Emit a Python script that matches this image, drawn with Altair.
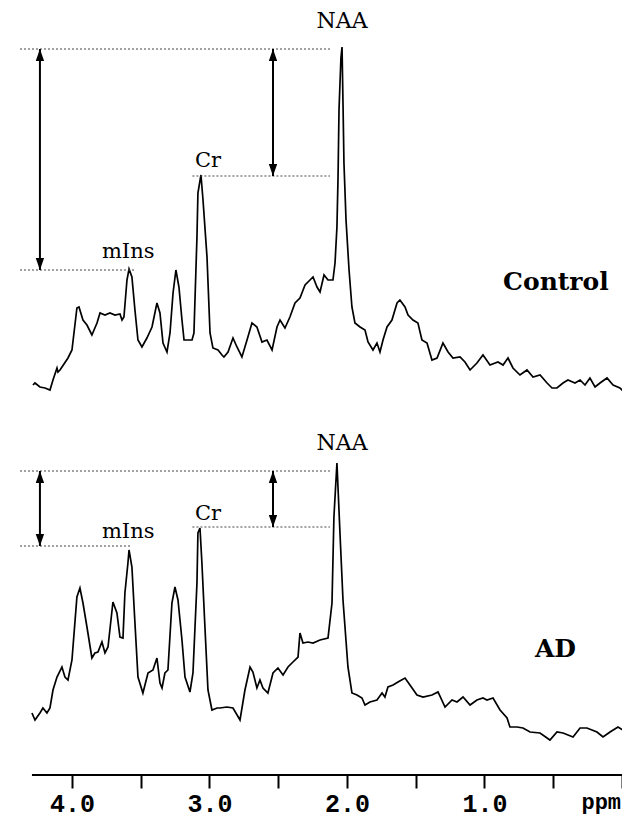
import altair as alt
import pandas as pd

# ---------------- data ----------------
# Control spectrum: chemical shift (ppm) and signal intensity (a.u., includes stacking offset)
control_ppm = [4.284, 4.269, 4.233, 4.196, 4.160, 4.138, 4.109, 4.102, 4.087, 4.029, 4.000,
               3.964, 3.949, 3.920, 3.891, 3.855, 3.818, 3.796, 3.760, 3.724, 3.687, 3.651,
               3.636, 3.622, 3.600, 3.585, 3.564, 3.542, 3.520, 3.491, 3.455, 3.418, 3.382,
               3.360, 3.338, 3.309, 3.287, 3.265, 3.244, 3.222, 3.200, 3.185, 3.127, 3.113,
               3.091, 3.084, 3.062, 3.047, 3.018, 2.996, 2.975, 2.938, 2.909, 2.895, 2.865,
               2.829, 2.800, 2.764, 2.727, 2.691, 2.655, 2.618, 2.582, 2.545, 2.509, 2.487,
               2.451, 2.415, 2.378, 2.342, 2.305, 2.269, 2.247, 2.218, 2.196, 2.167, 2.138,
               2.102, 2.087, 2.073, 2.065, 2.058, 2.044, 2.036, 2.029, 2.022, 2.007, 1.985,
               1.964, 1.942, 1.905, 1.869, 1.847, 1.811, 1.782, 1.760, 1.738, 1.709, 1.673,
               1.636, 1.615, 1.578, 1.556, 1.520, 1.484, 1.455, 1.418, 1.382, 1.345, 1.302,
               1.265, 1.229, 1.178, 1.142, 1.105, 1.055, 1.011, 0.960, 0.902, 0.865, 0.829,
               0.793, 0.742, 0.691, 0.647, 0.596, 0.545, 0.509, 0.473, 0.429, 0.393, 0.342,
               0.305, 0.269, 0.233, 0.196, 0.160, 0.109, 0.065, 0.015, -0.036]
control_int = [390, 392, 388, 387, 385, 395, 407, 403, 405, 417, 425,
               467, 468, 455, 450, 440, 452, 462, 460, 462, 460, 461,
               455, 458, 495, 506, 498, 465, 435, 428, 437, 448, 472,
               462, 432, 423, 442, 482, 505, 488, 455, 435, 435, 442,
               538, 582, 600, 575, 518, 442, 427, 425, 420, 418, 423,
               437, 428, 418, 435, 452, 448, 433, 435, 425, 448, 455,
               447, 458, 472, 477, 490, 495, 498, 488, 483, 500, 495,
               495, 512, 548, 598, 665, 717, 728, 672, 612, 555, 505,
               468, 452, 448, 445, 433, 425, 432, 423, 435, 448, 455,
               472, 475, 468, 460, 455, 452, 435, 432, 415, 417, 432,
               423, 417, 418, 413, 405, 412, 420, 410, 413, 410, 417,
               407, 400, 405, 398, 400, 392, 387, 387, 392, 395, 392,
               395, 390, 397, 388, 392, 397, 390, 387, 380]

# AD spectrum
ad_ppm = [4.291, 4.269, 4.233, 4.211, 4.182, 4.160, 4.138, 4.109, 4.073, 4.051, 4.029,
          4.000, 3.964, 3.942, 3.920, 3.891, 3.855, 3.833, 3.811, 3.782, 3.760, 3.738,
          3.702, 3.673, 3.651, 3.629, 3.615, 3.593, 3.585, 3.564, 3.542, 3.520, 3.484,
          3.447, 3.411, 3.382, 3.360, 3.345, 3.324, 3.302, 3.273, 3.251, 3.229, 3.200,
          3.178, 3.142, 3.120, 3.091, 3.084, 3.069, 3.055, 3.033, 3.011, 2.982, 2.945,
          2.924, 2.873, 2.829, 2.778, 2.742, 2.705, 2.684, 2.655, 2.633, 2.611, 2.575,
          2.538, 2.502, 2.465, 2.429, 2.393, 2.356, 2.342, 2.320, 2.284, 2.247, 2.196,
          2.138, 2.109, 2.095, 2.073, 2.051, 2.029, 1.993, 1.964, 1.927, 1.891, 1.869,
          1.833, 1.782, 1.745, 1.724, 1.702, 1.665, 1.629, 1.578, 1.542, 1.491, 1.447,
          1.382, 1.338, 1.287, 1.236, 1.200, 1.156, 1.105, 1.055, 1.011, 0.982, 0.938,
          0.887, 0.836, 0.815, 0.764, 0.720, 0.669, 0.596, 0.524, 0.473, 0.429, 0.356,
          0.305, 0.255, 0.182, 0.138, 0.087, 0.029, -0.007, -0.044]
ad_int = [62, 55, 62, 67, 62, 67, 85, 98, 108, 98, 95,
          115, 178, 187, 172, 148, 117, 122, 123, 133, 122, 128,
          173, 162, 138, 137, 182, 212, 225, 208, 152, 98, 82,
          102, 105, 117, 92, 87, 102, 105, 172, 188, 175, 135,
          98, 83, 102, 192, 242, 247, 212, 148, 85, 65, 67,
          67, 68, 67, 55, 85, 108, 103, 87, 95, 87, 82,
          102, 107, 100, 108, 113, 118, 142, 132, 133, 132, 135,
          137, 172, 258, 312, 242, 175, 108, 82, 80, 77, 70,
          73, 75, 82, 78, 88, 90, 93, 97, 90, 80, 78,
          80, 83, 68, 75, 73, 78, 70, 75, 77, 75, 77,
          65, 57, 48, 48, 47, 43, 42, 35, 43, 42, 38,
          47, 47, 43, 38, 43, 48, 45, 47]

tick_values = [4.0, 3.5, 3.0, 2.5, 2.0, 1.5, 1.0, 0.5, 0.0]

# peak-height reference levels (NAA, Cr, mIns) for each spectrum
levels_series = ["Control", "Control", "Control", "AD", "AD", "AD"]
levels_name = ["NAA", "Cr", "mIns", "NAA", "Cr", "mIns"]
levels_value = [726, 599, 505, 304, 248, 229]

# ---------------- tables ----------------
spec = pd.DataFrame({
    "ppm": control_ppm + ad_ppm,
    "intensity": control_int + ad_int,
    "series": ["Control"] * len(control_ppm) + ["AD"] * len(ad_ppm),
    "idx": list(range(len(control_ppm))) + list(range(len(ad_ppm))),
})

lev = dict(zip(zip(levels_series, levels_name), levels_value))

dotted = pd.DataFrame([
    {"x1": 4.378, "x2": 2.124, "y": lev[("Control", "NAA")]},
    {"x1": 3.124, "x2": 2.124, "y": lev[("Control", "Cr")]},
    {"x1": 4.378, "x2": 3.542, "y": lev[("Control", "mIns")]},
    {"x1": 4.378, "x2": 2.124, "y": lev[("AD", "NAA")]},
    {"x1": 3.124, "x2": 2.124, "y": lev[("AD", "Cr")]},
    {"x1": 4.378, "x2": 3.578, "y": lev[("AD", "mIns")]},
])

arrows = pd.DataFrame([
    {"x": 4.233, "top": lev[("Control", "NAA")], "bot": lev[("Control", "mIns")]},
    {"x": 2.538, "top": lev[("Control", "NAA")], "bot": lev[("Control", "Cr")]},
    {"x": 4.233, "top": lev[("AD", "NAA")], "bot": lev[("AD", "mIns")]},
    {"x": 2.538, "top": lev[("AD", "NAA")], "bot": lev[("AD", "Cr")]},
])

peak_labels = pd.DataFrame([
    {"x": 2.036, "y": 747, "t": "NAA", "a": "center"},
    {"x": 3.105, "y": 608, "t": "Cr", "a": "left"},
    {"x": 3.782, "y": 517, "t": "mIns", "a": "left"},
    {"x": 2.036, "y": 325, "t": "NAA", "a": "center"},
    {"x": 3.105, "y": 255, "t": "Cr", "a": "left"},
    {"x": 3.782, "y": 237, "t": "mIns", "a": "left"},
])

group_labels = pd.DataFrame([
    {"x": 0.865, "y": 485, "t": "Control"},
    {"x": 0.633, "y": 118, "t": "AD"},
])

# plot area spans page x 16..622 at 137.5 px per ppm
X_DOMAIN = [4.407, 0.0]
xs = alt.Scale(domain=X_DOMAIN, nice=False, zero=False)
ys = alt.Scale(domain=[0, 767], nice=False, zero=False)

x_axis = alt.Axis(values=tick_values, domain=False, grid=False, ticks=True,
                  tickSize=13, tickWidth=2, tickColor="black",
                  labelExpr="datum.value > 0 && datum.value % 1 == 0 ? format(datum.value, '.1f') : ''",
                  labelFont="Liberation Mono", labelFontWeight="bold", labelFontSize=25,
                  labelColor="black", labelBaseline="alphabetic", labelPadding=23,
                  labelFlush=False, labelOverlap=False, title=None)

base = alt.Chart(spec)

lines = base.mark_line(strokeWidth=1.7, color="black").encode(
    x=alt.X("ppm:Q", scale=xs, axis=x_axis),
    y=alt.Y("intensity:Q", scale=ys, axis=None),
    detail="series:N",
    order="idx:Q",
)

axis_line = alt.Chart(pd.DataFrame({"a": [4.291], "b": [-0.044], "y": [0]})).mark_rule(
    strokeWidth=2, color="black").encode(
    x=alt.X("a:Q", scale=xs), x2="b:Q", y=alt.Y("y:Q", scale=ys))

dots = alt.Chart(dotted).mark_rule(strokeWidth=1, color="#444", strokeDash=[2, 2]).encode(
    x=alt.X("x1:Q", scale=xs), x2="x2:Q", y=alt.Y("y:Q", scale=ys))

shafts = alt.Chart(arrows).mark_rule(strokeWidth=2, color="black").encode(
    x=alt.X("x:Q", scale=xs), y=alt.Y("top:Q", scale=ys), y2="bot:Q")

head_up = alt.Chart(arrows).mark_point(
    shape="M0,0L-0.7,2L0.7,2Z", filled=True, size=144, color="black", opacity=1).encode(
    x=alt.X("x:Q", scale=xs), y=alt.Y("top:Q", scale=ys))

head_down = alt.Chart(arrows).mark_point(
    shape="M0,0L-0.7,-2L0.7,-2Z", filled=True, size=144, color="black", opacity=1).encode(
    x=alt.X("x:Q", scale=xs), y=alt.Y("bot:Q", scale=ys))

lab_c = alt.Chart(peak_labels[peak_labels.a == "center"]).mark_text(
    font="DejaVu Serif", fontSize=22, align="center", baseline="alphabetic", color="black").encode(
    x=alt.X("x:Q", scale=xs), y=alt.Y("y:Q", scale=ys), text="t:N")

lab_l = alt.Chart(peak_labels[peak_labels.a == "left"]).mark_text(
    font="DejaVu Serif", fontSize=21, align="left", baseline="alphabetic", color="black").encode(
    x=alt.X("x:Q", scale=xs), y=alt.Y("y:Q", scale=ys), text="t:N")

groups = alt.Chart(group_labels).mark_text(
    font="DejaVu Serif", fontSize=25, fontWeight="bold", align="left",
    baseline="alphabetic", color="black").encode(
    x=alt.X("x:Q", scale=xs), y=alt.Y("y:Q", scale=ys), text="t:N")

ppm_lab = alt.Chart(pd.DataFrame({"x": [0.007], "y": [-34], "t": ["ppm"]})).mark_text(
    font="Liberation Mono", fontSize=22, fontWeight="bold", align="right",
    baseline="alphabetic", color="black").encode(
    x=alt.X("x:Q", scale=xs), y=alt.Y("y:Q", scale=ys), text="t:N")

chart = alt.layer(lines, axis_line, dots, shafts, head_up, head_down,
                  lab_c, lab_l, groups, ppm_lab).properties(
    width=606, height=767,
    autosize=alt.AutoSizeParams(type="none"),
    padding={"left": 8, "top": 0, "right": 0, "bottom": 44},
    background="white",
).configure_view(stroke=None, clip=False)

chart.save("out.html", embed_options={"renderer": "svg", "actions": False})
